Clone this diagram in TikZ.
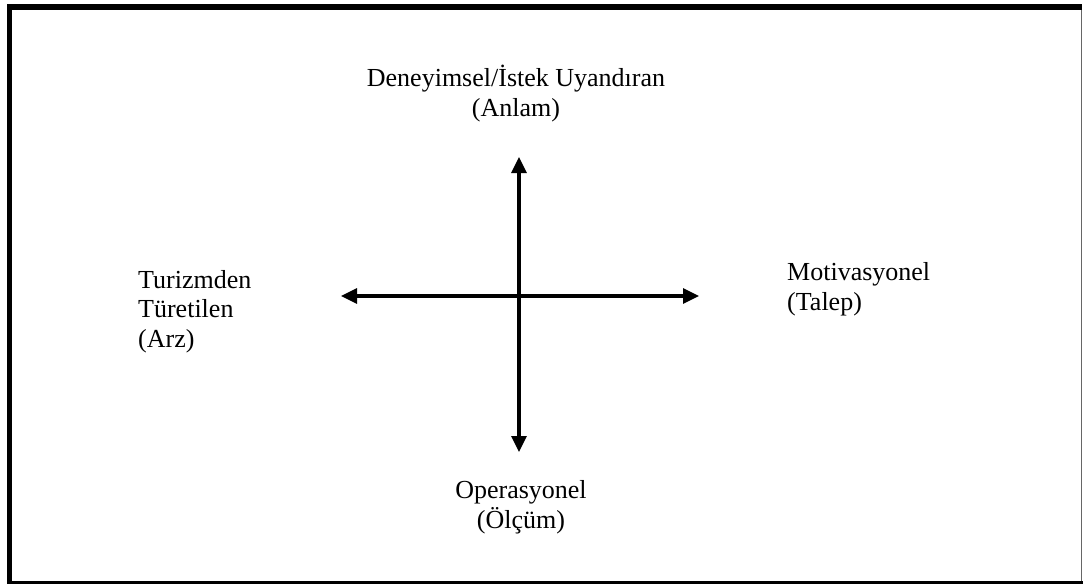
\documentclass[tikz,border=0pt]{standalone}
\usepackage{fontspec}
\setmainfont{Liberation Serif}
\usetikzlibrary{arrows.meta}
\begin{document}
\begin{tikzpicture}[x=1pt,y=-1pt,
  both/.style={line width=3.2pt,{Triangle[length=16pt,width=15pt]}-{Triangle[length=16pt,width=15pt]}},
  lbl/.style={inner sep=0pt,font=\fontsize{26}{29.5}\selectfont}]
  \useasboundingbox (0,0) rectangle (1083,584);
  % outer frame
  \fill[black] (7,4) rectangle (1082,10);
  \fill[black] (7,4) rectangle (12,584);
  \fill[black] (7,581) rectangle (1083,584);
  \draw[black!60,line width=1.2pt] (1081.5,10) -- (1081.5,581);
  % axis end points
  \coordinate (west) at (341,296);
  \coordinate (east) at (699,296);
  \coordinate (north) at (519,157);
  \coordinate (south) at (519,452);
  \draw[both] (west) -- (east);
  \draw[both] (north) -- (south);
  % labels (base anchor sits on the last line)
  \node[lbl,align=center,anchor=base] (top) at (516,116) {Deneyimsel/İstek Uyandıran\\(Anlam)};
  \node[lbl,align=center,anchor=base] (bottom) at (521,528) {Operasyonel\\(Ölçüm)};
  \node[lbl,align=left,anchor=base west] (left) at (138,347) {Turizmden\\Türetilen\\(Arz)};
  \node[lbl,align=left,anchor=base west] (right) at (787,310) {Motivasyonel\\(Talep)};
\end{tikzpicture}
\end{document}
